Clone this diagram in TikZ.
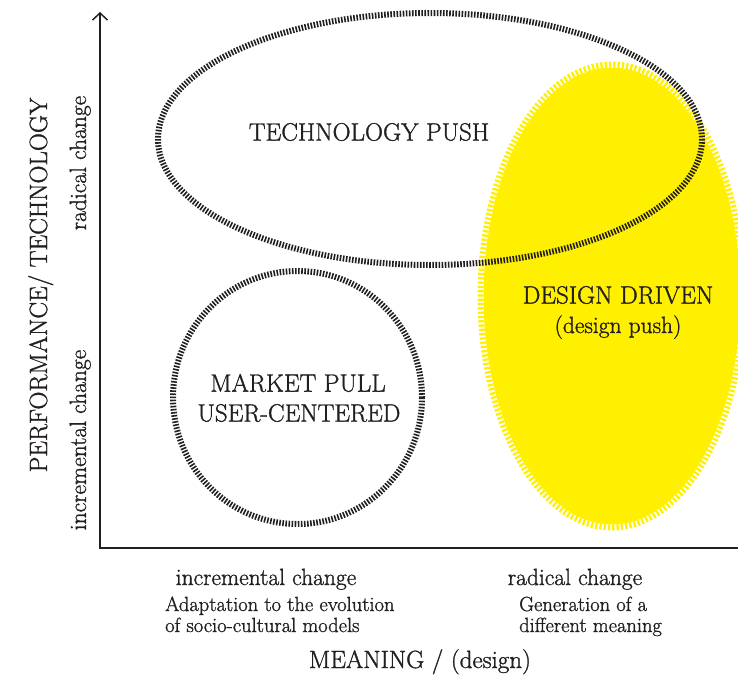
\documentclass[tikz,border=0pt]{standalone}
\usepackage{fontspec}
\setmainfont{Latin Modern Roman}[FakeBold=1.2]
\usetikzlibrary{arrows.meta}
\definecolor{ink}{RGB}{35,31,32}
\definecolor{sun}{RGB}{255,240,0}
\begin{document}
\begin{tikzpicture}[x=1pt,y=-1pt,
  hatch/.style={draw=ink, line width=6pt, dash pattern=on 1.6pt off 1.5pt},
  yhatch/.style={draw=sun, line width=6pt, dash pattern=on 2.3pt off 2pt},
  caps/.style={text=ink, font=\fontsize{25}{30}\selectfont, inner sep=0pt},
  lower/.style={text=ink, font=\fontsize{23.5}{28}\selectfont, inner sep=0pt},
  small/.style={text=ink, font=\fontsize{20.5}{24}\selectfont, inner sep=0pt},
  axis/.style={draw=ink, line width=2pt}]
\useasboundingbox (0,0) rectangle (738,675);

% design driven region: yellow fill with a hatched yellow rim
\fill[sun] (612,296) ellipse [x radius=128.5, y radius=228.5];
\draw[yhatch] (612,296) ellipse [x radius=131.5, y radius=231.5];

% technology push and market pull regions
\draw[hatch] (430,139) ellipse [x radius=272, y radius=126];
\draw[hatch] (297.5,397.5) ellipse [x radius=124.5, y radius=126.5];

% region labels
\node[caps] (tech) at (369,132) {TECHNOLOGY PUSH};
\node[caps] (market) at (298,383) {MARKET PULL};
\node[caps] (user) at (299,413) {USER-CENTERED};
\node[caps] (design) at (618,295) {DESIGN DRIVEN};
\node[lower, anchor=base] (push) at (618,333) {(design push)};

% axes
\coordinate (origin) at (100,548);
\coordinate (ytop) at (100,12);
\coordinate (xend) at (738,548);
\draw[axis, -{Straight Barb[length=7pt,width=15pt,line width=1.5pt]}] (origin) -- (ytop);
\draw[axis] ([xshift=-1pt]origin) -- (xend);

% vertical axis labels
\node[caps, rotate=90, anchor=base] (perf) at (47,285) {PERFORMANCE/ TECHNOLOGY};
\node[lower, rotate=90, anchor=base] (yrad) at (86,163) {radical change};
\node[lower, rotate=90, anchor=base] (yinc) at (86,440) {incremental change};

% horizontal axis labels
\node[lower, anchor=base] (xinc) at (266,585) {incremental change};
\node[small, anchor=base west] (adapt1) at (165,611) {Adaptation to the evolution};
\node[small, anchor=base west] (adapt2) at (165,632) {of socio-cultural models};
\node[lower, anchor=base] (xrad) at (575,585) {radical change};
\node[small, anchor=base west] (gen1) at (519,611) {Generation of a};
\node[small, anchor=base west] (gen2) at (519,632) {different meaning};
\node[caps, anchor=base] (meaning) at (420,668) {MEANING / (design)};
\end{tikzpicture}
\end{document}
